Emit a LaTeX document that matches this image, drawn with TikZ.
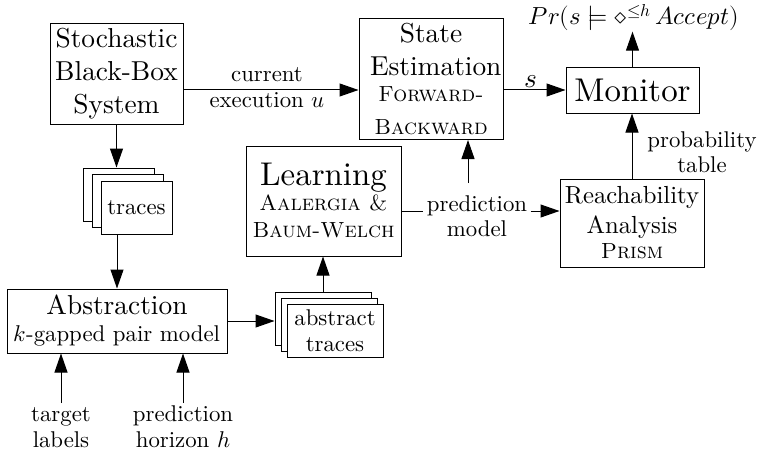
\documentclass[tikz,border=0pt]{standalone}
\usepackage{fontspec}
\usepackage{unicode-math}
\setmainfont{lmroman10-regular.otf}[ItalicFont=lmroman10-italic.otf, BoldFont=lmroman10-bold.otf, SmallCapsFont=lmromancaps10-regular.otf]
\setmathfont{latinmodern-math.otf}
\usetikzlibrary{arrows.meta}
\newcommand\myN{\fontsize{27.4}{32.9}\selectfont}
\newcommand\myL{\fontsize{32.9}{39.5}\selectfont}
\newcommand\myS{\fontsize{22.8}{25.5}\selectfont}
\newcommand\myF{\fontsize{21.9}{26}\selectfont}
\newcommand\mymodels{\mathrel{\vert\mkern-4.5mu\mathord{=}}}
\begin{document}
\begin{tikzpicture}[x=1pt,y=1pt, line width=1pt,
  box/.style={draw, fill=white, inner sep=0pt, align=center},
  sheet/.style={draw, fill=white, inner sep=0pt, align=center},
  lbl/.style={inner sep=0pt, align=center, font=\myS},
  arr/.style={-{Triangle[length=19pt,width=13pt]}}]
\useasboundingbox (0,0) rectangle (758,-460);

% boxes
\node[box, minimum width=133pt, minimum height=100pt, font=\myN] (sys) at (116.5,-74)
  {Stochastic\\Black-Box\\System};
\node[box, minimum width=144pt, minimum height=121pt, text width=122pt, font=\myN] (est) at (431,-79)
  {State\\Estimation\\\myF\textsc{Forward-}\\\myF\textsc{Backward}};
\node[box, minimum width=133pt, minimum height=45pt, font=\myL] (mon) at (632.5,-90.5) {Monitor};
\node[box, minimum width=144pt, minimum height=88pt, font=\fontsize{24.7}{25}\selectfont] (reach) at (632,-223)
  {Reachability\\[5pt]Analysis\\\myF\textsc{Prism}};
\node[box, minimum width=155pt, minimum height=110pt, font=\fontsize{32.9}{25}\selectfont] (learn) at (323.5,-201)
  {Learning\\\myF\textsc{Aalergia \&}\\[2pt]\myF\textsc{Baum-Welch}};
\node[box, minimum width=220pt, minimum height=64pt, font=\fontsize{27.4}{27}\selectfont] (abs) at (117,-321)
  {Abstraction\\\myS$k$-gapped pair model};

% stacked sheets: traces
\node[sheet, minimum width=71pt, minimum height=53pt] (tr1) at (118.5,-194.5) {};
\node[sheet, minimum width=71pt, minimum height=53pt] (tr2) at (127.5,-201) {};
\node[sheet, minimum width=71pt, minimum height=53pt, font=\myS] (tr3) at (136.5,-207.5) {traces};

% stacked sheets: abstract traces
\node[sheet, minimum width=96pt, minimum height=53pt] (at1) at (323,-318.5) {};
\node[sheet, minimum width=96pt, minimum height=53pt] (at2) at (329,-324.5) {};
\node[sheet, minimum width=96pt, minimum height=53pt, font=\myS] (at3) at (335,-330.5) {abstract\\traces};

% labels
\node[lbl] (cur) at (267,-87.5) {current\\execution $u$};
\node[lbl, font=\myN] (sl) at (531,-82) {$s$};
\node[lbl, font=\fontsize{24.7}{30}\selectfont, anchor=base] (pr) at (634,-25) {$Pr(s \mymodels \diamond^{\leq h}\,Accept)$};
\node[lbl] (pt) at (702,-152) {probability\\table};
\node[lbl, inner xsep=3pt, inner ysep=12pt, anchor=north] (pm) at (477,-183) {prediction\\model};
\coordinate (pmy) at (477,-211);
\node[lbl, inner sep=4pt] (tl) at (61,-427.5) {target\\labels};
\node[lbl, inner sep=2pt] (ph) at (183,-426.5) {prediction\\horizon $h$};

% connectors
\draw[arr] ([yshift=-16pt]sys.east) -- ([yshift=-16pt]sys.east -| est.west);
\draw[arr] ([yshift=-11pt]est.east) -- ([yshift=-11pt]est.east -| mon.west);
\draw[arr] (mon.north) -- (mon.north |- pr.south);
\draw[arr] (reach.north) -- (reach.north |- mon.south);
\draw (learn.east |- pmy) -- (pm.west |- pmy);
\draw[arr] (pm.east |- pmy) -- (reach.west |- pmy);
\draw[arr] ([xshift=-9pt]pm.north) -- ([xshift=-9pt]pm.north |- est.south);
\draw[arr] (sys.south) -- (sys.south |- tr1.north);
\draw[arr] (abs.north |- tr3.south) -- (abs.north);
\draw[arr] (abs.east) -- (abs.east -| at1.west);
\draw[arr] (at1.north) -- (at1.north |- learn.south);
\draw[arr] (tl.north) -- (tl.north |- abs.south);
\draw[arr] (ph.north) -- (ph.north |- abs.south);
\end{tikzpicture}
\end{document}
